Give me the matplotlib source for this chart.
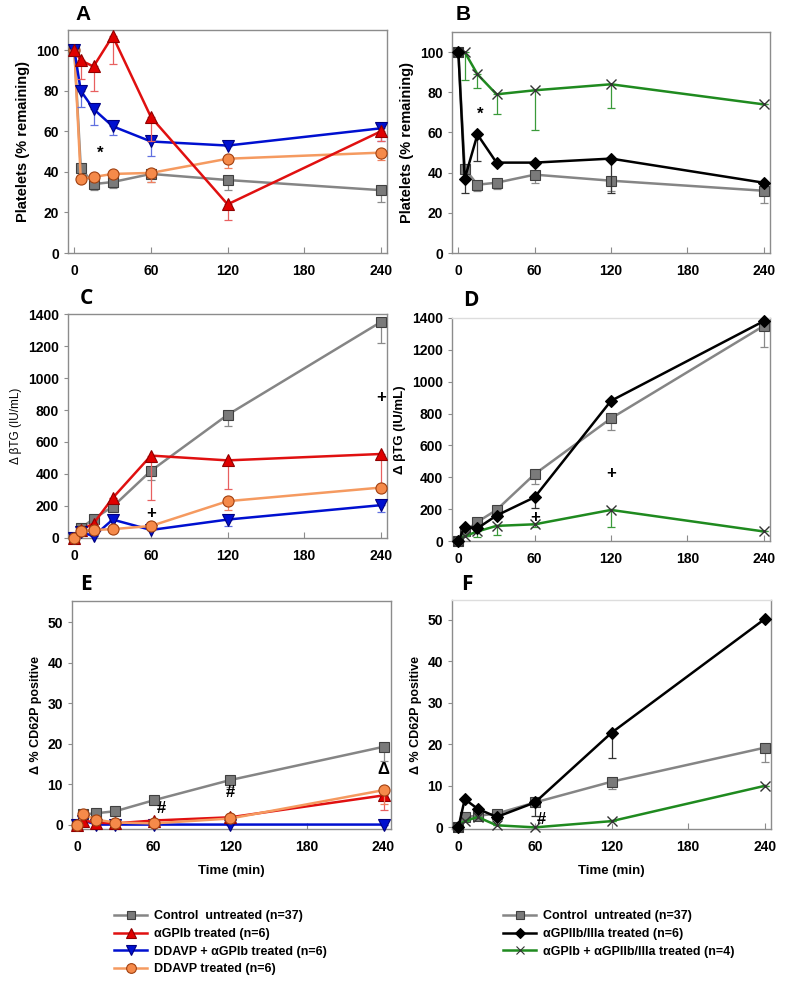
import matplotlib
matplotlib.use("Agg")
import matplotlib.pyplot as plt
from matplotlib.lines import Line2D
import numpy as np

plt.rcParams['font.family'] = ['Liberation Sans', 'DejaVu Sans']

t = [0, 5, 15, 30, 60, 120, 240]

# platelets (% remaining)
plt_ctrl = [100, 42, 34, 35, 39, 36, 31]
plt_ctrl_err = [0, 0, 3, 3, 4, 5, 6]
plt_gpib = [100, 95, 92, 107, 67, 24, 60]
plt_gpib_err = [0, 9, 12, 14, 12, 7.5, 5]
plt_ddgp = [100, 80, 71, 62.5, 55, 53, 61.5]
plt_ddgp_err = [0, 8, 8, 4.5, 7, 0, 6.5]
plt_ddavp = [100, 36.5, 37.5, 39, 39.5, 46.5, 49.5]
plt_ddavp_err = [0, 0, 0, 0, 4.5, 4.5, 3.5]
plt_iib = [100, 37, 59, 45, 45, 47, 35]
plt_iib_err = [0, 7, 13, 0, 0, 17, 0]
plt_comb = [100, 100, 89, 79, 81, 84, 74]
plt_comb_err = [0, 14, 7, 10, 20, 12, 0]

# delta beta-TG (IU/mL)
tg_ctrl = [0, 60, 120, 195, 420, 770, 1350]
tg_ctrl_err = [0, 0, 0, 0, 60, 70, 130]
tg_gpib = [0, 50, 90, 250, 515, 485, 525]
tg_gpib_err = [0, 0, 0, 0, 280, 180, 230]
tg_ddgp = [0, 40, 10, 115, 50, 115, 205]
tg_ddgp_err = [0, 0, 0, 0, 0, 40, 45]
tg_ddavp = [0, 45, 50, 55, 75, 230, 315]
tg_ddavp_err = [0, 0, 0, 0, 0, 55, 25]
tg_iib = [0, 90, 80, 160, 275, 880, 1380]
tg_iib_err = [0, 0, 0, 0, 70, 0, 0]
tg_comb = [0, 30, 60, 95, 105, 195, 60]
tg_comb_err = [0, 0, 35, 55, 15, 105, 0]

# delta % CD62P positive
cd_ctrl = [0, 2.5, 2.8, 3.3, 6, 11, 19.2]
cd_ctrl_err = [0, 0, 0, 0, 0, 1.7, 3.4]
cd_gpib = [0, 1, 0.5, 0.3, 1, 1.8, 7.2]
cd_gpib_err = [0, 0, 0, 0, 0, 0, 3.7]
cd_ddgp = [0, 1, 0, 0, 0, 0, 0]
cd_ddgp_err = [0, 0, 0, 0, 0, 0, 0]
cd_ddavp = [0, 2.5, 1.2, 0.5, 0.3, 1.5, 8.5]
cd_ddavp_err = [0, 0, 0, 0, 0, 0, 3.5]
cd_iib = [0, 6.8, 4.5, 2.5, 6, 22.8, 50.2]
cd_iib_err = [0, 0, 0, 0, 3.2, 6, 0]
cd_comb = [0, 1.5, 2.5, 0.5, 0, 1.5, 10]
cd_comb_err = [0, 0, 0, 0, 0, 0, 0]

lbl_ctrl = "Control  untreated (n=37)"
lbl_gpib = "αGPIb treated (n=6)"
lbl_ddgp = "DDAVP + αGPIb treated (n=6)"
lbl_ddavp = "DDAVP treated (n=6)"
lbl_iib = "αGPIIb/IIIa treated (n=6)"
lbl_comb = "αGPIb + αGPIIb/IIIa treated (n=4)"

sty = {
    "ctrl": dict(color="#858585", marker="s", mfc="#7a7a7a", mec="#404040", ms=7, ecol="#8a8a8a"),
    "gpib": dict(color="#e01010", marker="^", mfc="#e00000", mec="#900000", ms=8, ecol="#e86060"),
    "ddgp": dict(color="#0010d0", marker="v", mfc="#0010d0", mec="#000080", ms=8, ecol="#6070e0"),
    "ddavp": dict(color="#f59a60", marker="o", mfc="#f58a4a", mec="#a04010", ms=8, ecol="#f08060"),
    "iib": dict(color="black", marker="D", mfc="black", mec="black", ms=6.5, ecol="#333333"),
    "comb": dict(color="#1f8a1f", marker="x", mfc="none", mec="#333333", ms=7, ecol="#3a9a3a"),
}


def series(ax, y, err, key, z):
    s = sty[key]
    e = np.array(err, dtype=float)
    ax.errorbar(t, y, yerr=[e, np.zeros_like(e)], fmt="none", ecolor=s["ecol"],
                elinewidth=0.9, capsize=3, capthick=0.9, zorder=z - 1, clip_on=False)
    ax.plot(t, y, color=s["color"], lw=1.8, marker=s["marker"], mfc=s["mfc"],
            mec=s["mec"], ms=s["ms"], mew=0.8 if s["marker"] != "x" else 1.0,
            zorder=z, clip_on=False)


def style(ax, ylim, yticks, ylabel, lsize=9, lweight="bold"):
    ax.set_xlim(-5, 245)
    ax.set_ylim(*ylim)
    ax.set_xticks([0, 60, 120, 180, 240])
    ax.set_yticks(yticks)
    for sp in ax.spines.values():
        sp.set_color("#8c8c8c")
        sp.set_linewidth(1.0)
    ax.tick_params(axis="x", direction="in", length=4, color="#8c8c8c", labelsize=10, pad=8)
    ax.tick_params(axis="y", direction="out", length=3, color="#8c8c8c", labelsize=10)
    for lab in ax.get_xticklabels() + ax.get_yticklabels():
        lab.set_fontweight("bold")
    ax.set_ylabel(ylabel, fontsize=lsize, fontweight=lweight)


fig = plt.figure(figsize=(8, 9.86), dpi=100)

axA = fig.add_axes([0.085, 0.7434, 0.399, 0.2262])
axB = fig.add_axes([0.565, 0.7434, 0.3975, 0.2241])
axC = fig.add_axes([0.085, 0.4544, 0.399, 0.2271])
axD = fig.add_axes([0.565, 0.4513, 0.3975, 0.2262])
axE = fig.add_axes([0.09, 0.1592, 0.399, 0.2313])
axF = fig.add_axes([0.565, 0.1592, 0.3988, 0.2323])

# A
series(axA, plt_ctrl, plt_ctrl_err, "ctrl", 3)
series(axA, plt_ddavp, plt_ddavp_err, "ddavp", 4)
series(axA, plt_ddgp, plt_ddgp_err, "ddgp", 5)
series(axA, plt_gpib, plt_gpib_err, "gpib", 6)
style(axA, (0, 110), [0, 20, 40, 60, 80, 100], "Platelets (% remaining)", 10.5)
axA.text(20, 49, "*", fontsize=12, fontweight="bold", ha="center", va="center")

# B
series(axB, plt_ctrl, plt_ctrl_err, "ctrl", 3)
series(axB, plt_comb, plt_comb_err, "comb", 4)
series(axB, plt_iib, plt_iib_err, "iib", 5)
style(axB, (0, 110), [0, 20, 40, 60, 80, 100], "Platelets (% remaining)", 10.5)
axB.text(17, 69, "*", fontsize=12, fontweight="bold", ha="center", va="center")

# C
series(axC, tg_ctrl, tg_ctrl_err, "ctrl", 3)
series(axC, tg_gpib, tg_gpib_err, "gpib", 4)
series(axC, tg_ddgp, tg_ddgp_err, "ddgp", 5)
series(axC, tg_ddavp, tg_ddavp_err, "ddavp", 6)
style(axC, (0, 1400), [0, 200, 400, 600, 800, 1000, 1200, 1400], "Δ βTG (IU/mL)", 8.5, "normal")
axC.text(60, 150, "+", fontsize=12, fontweight="bold", ha="center", va="center")
axC.text(240, 880, "+", fontsize=12, fontweight="bold", ha="center", va="center")

# D
series(axD, tg_ctrl, tg_ctrl_err, "ctrl", 3)
series(axD, tg_comb, tg_comb_err, "comb", 4)
series(axD, tg_iib, tg_iib_err, "iib", 5)
style(axD, (0, 1400), [0, 200, 400, 600, 800, 1000, 1200, 1400], "Δ βTG (IU/mL)", 9.5)
axD.spines["top"].set_color("#dddddd")
axD.text(60, 150, "+", fontsize=12, fontweight="bold", ha="center", va="center")
axD.text(120, 425, "+", fontsize=12, fontweight="bold", ha="center", va="center")

# E
series(axE, cd_ctrl, cd_ctrl_err, "ctrl", 3)
series(axE, cd_ddgp, cd_ddgp_err, "ddgp", 4)
series(axE, cd_gpib, cd_gpib_err, "gpib", 5)
series(axE, cd_ddavp, cd_ddavp_err, "ddavp", 6)
style(axE, (-1.1, 55.2), [0, 10, 20, 30, 40, 50], "Δ % CD62P positive", 9)
axE.set_xlim(-4, 246)
axE.text(66, 4, "#", fontsize=12, fontweight="bold", ha="center", va="center")
axE.text(120, 8, "#", fontsize=12, fontweight="bold", ha="center", va="center")
axE.text(240, 13.5, "Δ", fontsize=12, fontweight="bold", ha="center", va="center")
axE.set_xlabel("Time (min)", fontsize=9.5, fontweight="bold", labelpad=8)

# F
series(axF, cd_ctrl, cd_ctrl_err, "ctrl", 3)
series(axF, cd_comb, cd_comb_err, "comb", 4)
series(axF, cd_iib, cd_iib_err, "iib", 5)
style(axF, (-0.4, 54.8), [0, 10, 20, 30, 40, 50], "Δ % CD62P positive", 9)
axF.spines["top"].set_color("#dddddd")
axF.text(65, 2, "#", fontsize=12, fontweight="bold", ha="center", va="center")
axF.set_xlabel("Time (min)", fontsize=9.5, fontweight="bold", labelpad=8)

# panel letters
fig.text(83 / 800, 1 - 15 / 986, "A", fontsize=15, fontweight="bold", ha="center", va="center")
fig.text(463 / 800, 1 - 15 / 986, "B", fontsize=15, fontweight="bold", ha="center", va="center")
for lt, x, y in [("C", 86, 298), ("D", 471, 300), ("E", 86, 584), ("F", 467, 585)]:
    fig.text(x / 800, 1 - y / 986, lt, fontsize=15, fontweight="bold", ha="center",
             va="center", family=["Open Sans", "DejaVu Sans"])


def handle(key):
    s = sty[key]
    return Line2D([], [], color=s["color"], lw=1.8, marker=s["marker"], mfc=s["mfc"],
                  mec=s["mec"], ms=s["ms"] - 1, mew=0.8)


leg1 = fig.legend([handle("ctrl"), handle("gpib"), handle("ddgp"), handle("ddavp")],
                  [lbl_ctrl, lbl_gpib, lbl_ddgp, lbl_ddavp],
                  loc="upper left", bbox_to_anchor=(108 / 800, 1 - 904 / 986),
                  frameon=False, prop=dict(size=9, weight="bold"), handlelength=2.6,
                  labelspacing=0.45, borderpad=0, handletextpad=0.6)
leg2 = fig.legend([handle("ctrl"), handle("iib"), handle("comb")],
                  [lbl_ctrl, lbl_iib, lbl_comb],
                  loc="upper left", bbox_to_anchor=(497 / 800, 1 - 904 / 986),
                  frameon=False, prop=dict(size=9, weight="bold"), handlelength=2.6,
                  labelspacing=0.45, borderpad=0, handletextpad=0.6)

plt.savefig("out.png", dpi=100)
